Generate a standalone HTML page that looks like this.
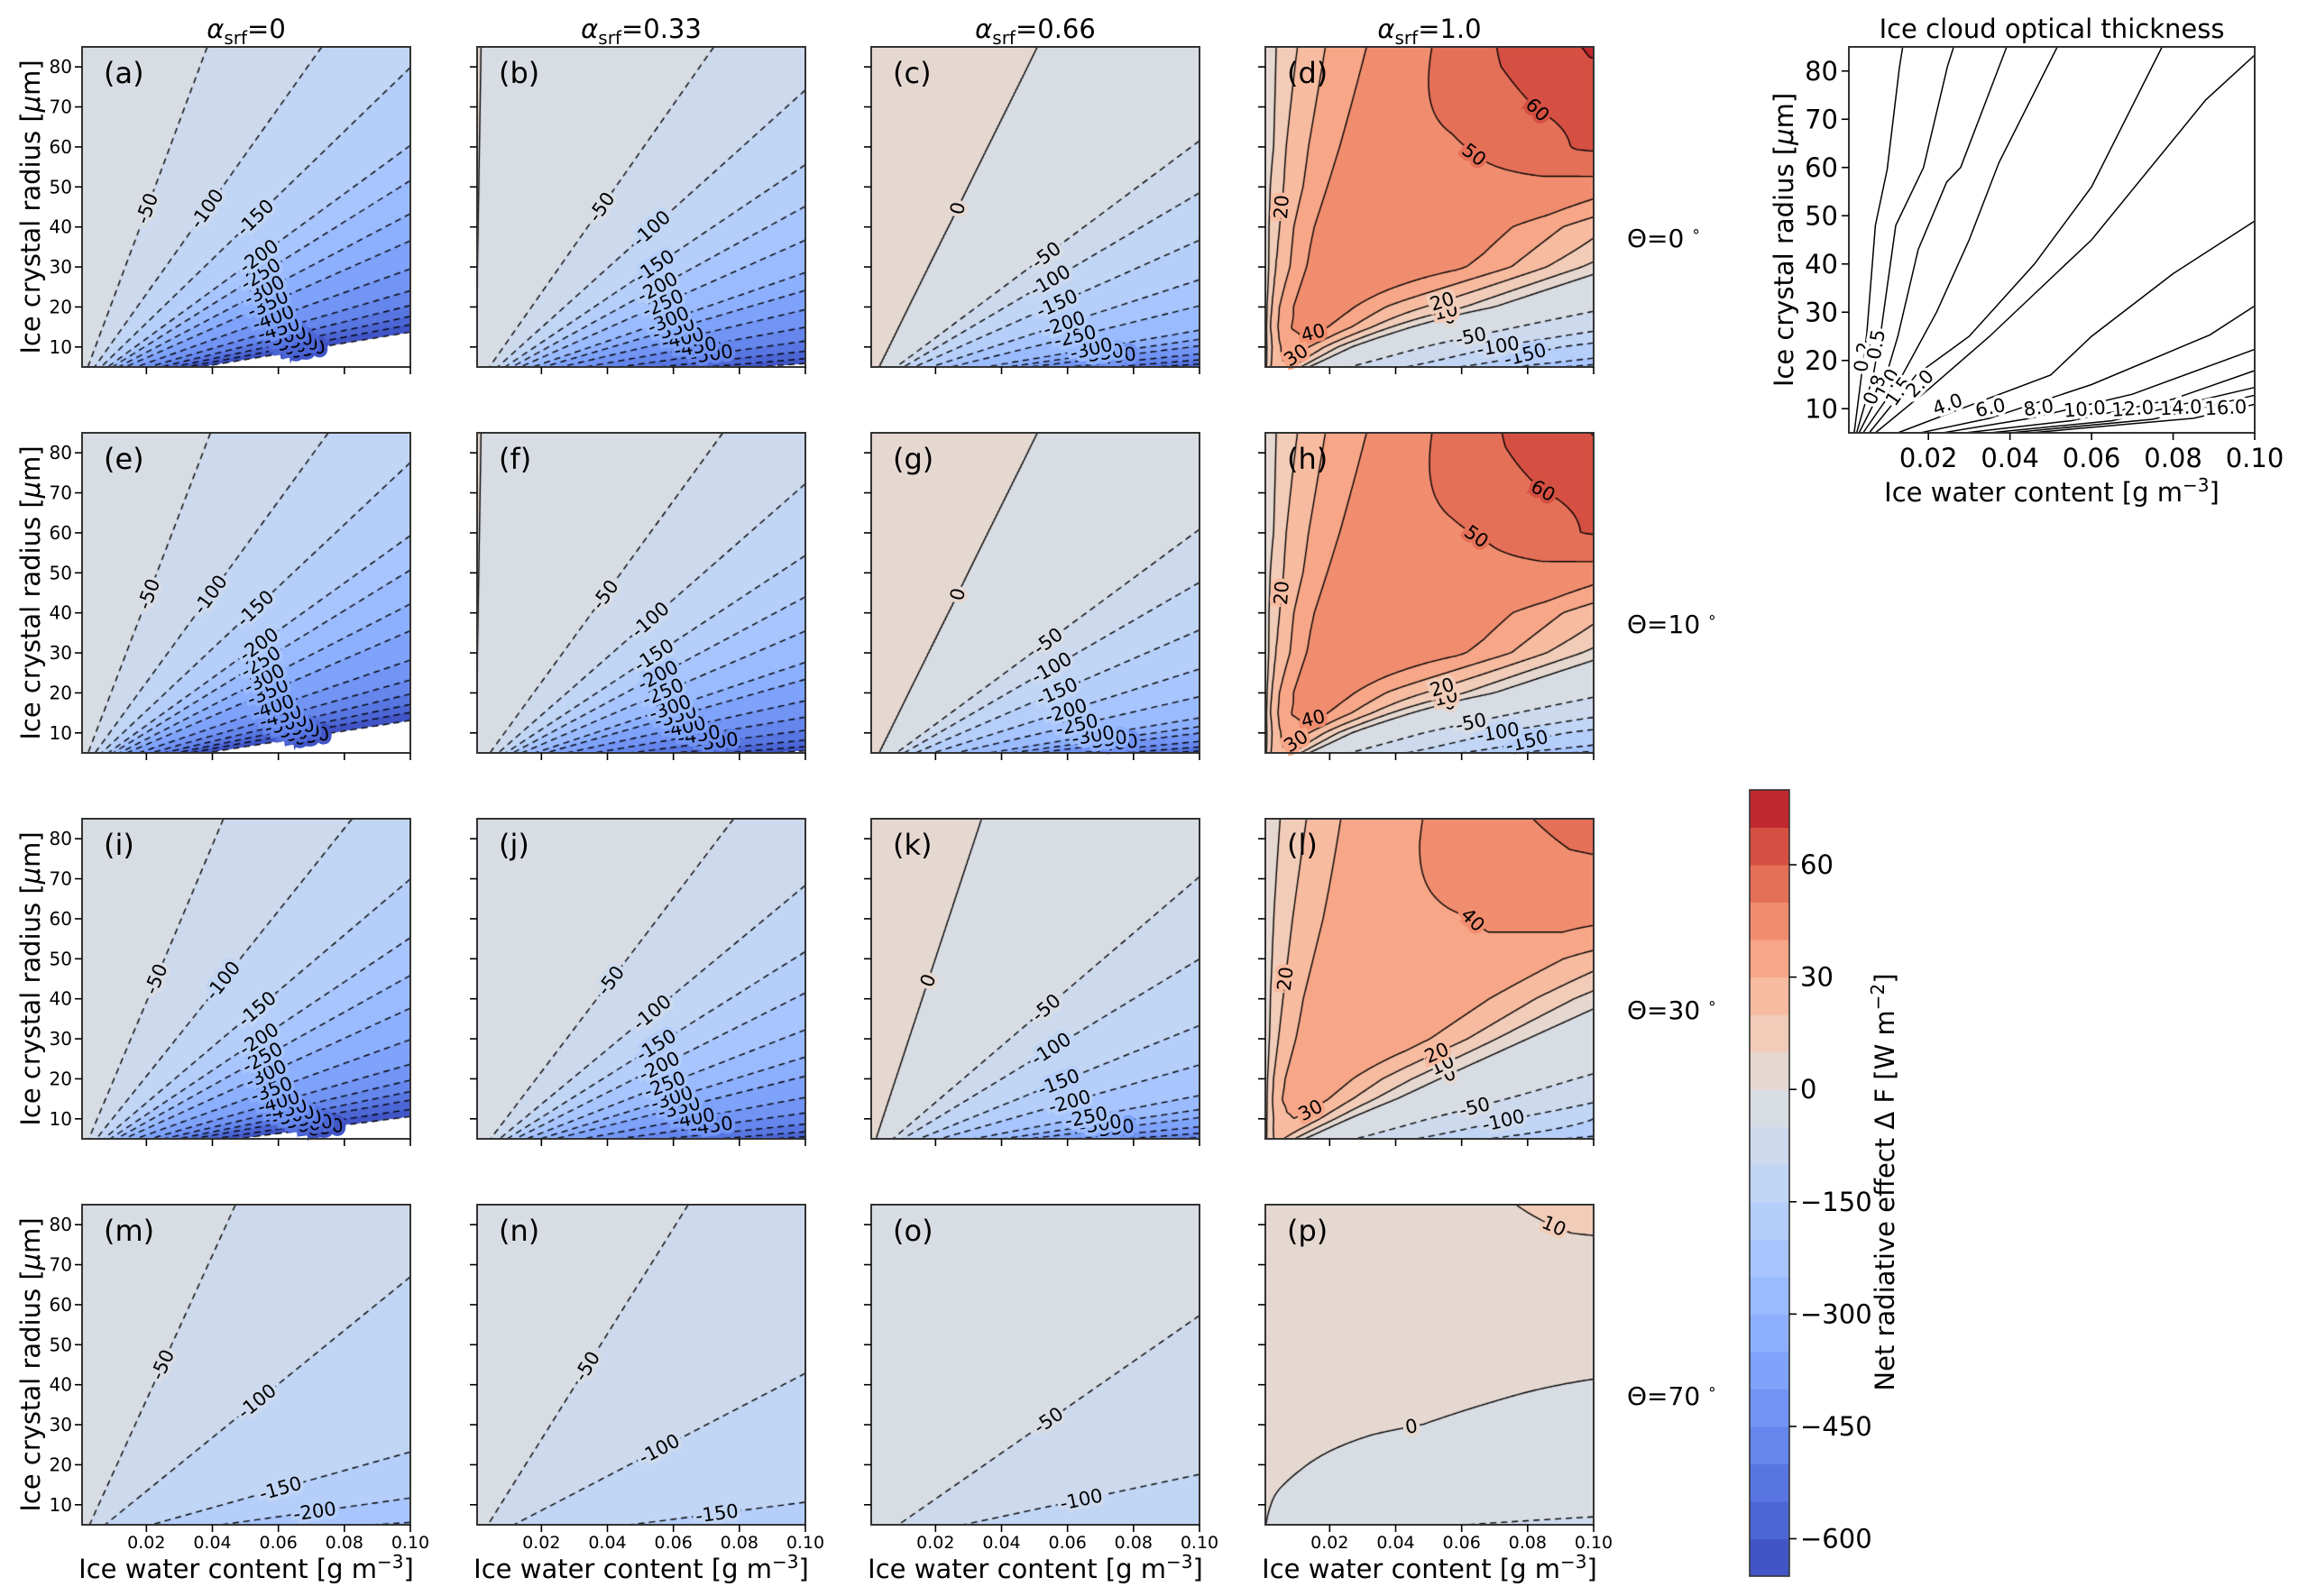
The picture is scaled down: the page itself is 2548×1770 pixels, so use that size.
<!DOCTYPE html>
<html><head><meta charset="utf-8">
<style>
body{margin:0;background:#fff;}
#wrap{position:relative;width:2548px;height:1770px;overflow:hidden;background:#fff;font-family:"DejaVu Sans","Liberation Sans",sans-serif;}
canvas{position:absolute;}
#chart{position:absolute;left:0;top:0;}
</style></head>
<body>
<div id="wrap">
<svg id="chart" width="2548" height="1770" viewBox="0 0 2548 1770" font-family="DejaVu Sans, Liberation Sans, sans-serif"></svg>
</div>
<script>
// ---------- data ----------
const Q = [0, 0.5, 1.2, 2.5, 4, 6, 9, 12, 16, 20, 25, 30, 35, 45, 70, 100, 200]; // 1e4*IWC/r nodes
const levels = [-650,-600,-550,-500,-450,-400,-350,-300,-250,-200,-150,-100,-50,0,10,20,30,40,50,60,70,80];
const cbTicks = [60,30,0,-150,-300,-450,-600];
const xTicks = [0.02,0.04,0.06,0.08,0.10];
const xTickLabels = ["0.02","0.04","0.06","0.08","0.10"];
const yTicks = [10,20,30,40,50,60,70,80];
const colTitles = ["0","0.33","0.66","1.0"];
const rowTitles = ["0","10","30","70"];
const ROW1 = [45];
const R9 = [5,10,15,20,30,40,50,60,85];
const R6 = [5,15,30,50,60,85];

const panelA = [0,-6,-13,-27,-44,-67,-105,-144,-190,-261,-324,-379,-406,-473,-638,-760,-950];
const panelE = [0,-6,-13,-26,-43,-65,-102,-140,-185,-255,-316,-370,-397,-463,-625,-745,-930];
const panelI = [0,-5,-11,-24,-39,-59,-92,-127,-167,-230,-285,-333,-357,-416,-561,-669,-836];
const panelM = [0,-5,-11,-23,-37,-54,-70,-89,-104,-113,-122,-130,-137,-153,-186,-213,-260];
const panelB = [2,-3,-7,-15,-24,-35,-53,-86,-124,-176,-232,-272,-300,-378,-460,-530,-700];
const panelF = [2,-3,-7,-14,-23,-34,-51,-83,-120,-170,-225,-264,-291,-367,-446,-514,-680];
const panelJ = [0,-3,-6,-13,-21,-31,-48,-77,-112,-158,-209,-245,-270,-340,-414,-477,-630];
const panelN = [0,-3,-8,-17,-27,-41,-58,-70,-80,-92,-104,-113,-120,-130,-142,-152,-180];
const panelC = [8,6,5,4,2,0,-15,-28,-47,-95,-136,-167,-188,-240,-298,-410,-600];
const panelG = [8,6,5,4,2,0,-14,-27,-45,-92,-132,-162,-182,-233,-290,-400,-585];
const panelK = [8,6,4,2,0,-5,-20,-38,-60,-100,-128,-150,-168,-210,-265,-360,-520];
const panelO = [-2,-4,-6,-10,-14,-19,-27,-35,-46,-57,-67,-75,-81,-91,-110,-122,-150];
const panelD = [
 [0,4,8,14,19,24,28,27,22,15,5,-5,-20,-40,-75,-120,-280],
 [0,6,12,20,27,32,35,33,26,16,4,-8,-22,-42,-100,-175,-300],
 [0,9,19,28,36,41,44,42,34,25,12,0,-15,-35,-95,-160,-300],
 [0,10,20,31,39,43,45,44,35,27,19,11,0,-30,-90,-150,-300],
 [1,10,20,29,39,45,47,47,45,41,30,16,2,-30,-90,-150,-300],
 [2,12,20,32,41,45,46,46,45,38,23,10,0,-30,-90,-150,-300],
 [2,12,20,31,41,43,44,45,46,45,35,20,5,-30,-90,-150,-300],
 [2,10,21,32,41,45,48,53,61,64,60,50,40,20,-20,-60,-150],
 [2,11,20,33,42,50,63,72,75,75,75,75,75,75,75,75,75]];
const panelH = [
 [0,4,8,14,19,24,28,27,22,15,5,-5,-20,-40,-75,-120,-270],
 [0,6,12,20,27,32,35,33,26,16,4,-8,-22,-42,-100,-170,-290],
 [0,9,19,28,36,41,44,42,34,25,12,0,-15,-35,-95,-155,-290],
 [0,10,20,31,39,43,45,44,35,27,19,11,0,-30,-90,-150,-290],
 [1,10,20,29,39,45,47,47,45,41,30,16,2,-30,-90,-150,-290],
 [2,12,20,32,41,45,46,46,45,38,23,10,0,-30,-90,-150,-290],
 [2,12,20,31,41,43,44,45,46,45,35,20,5,-30,-90,-150,-290],
 [2,10,21,32,41,45,48,52,60,63,60,50,40,20,-20,-60,-150],
 [2,11,20,33,42,50,62,71,74,74,74,74,74,74,74,74,74]];
const panelL = [
 [0,4,8,13,17,20,22,20,15,8,0,-8,-18,-35,-70,-110,-220],
 [0,6,12,18,24,28,30,28,22,14,2,-10,-22,-40,-90,-150,-260],
 [0,8,16,25,31,34,35,32,25,15,5,-8,-20,-40,-100,-150,-260],
 [0,9,18,27,33,35,36,33,25,15,5,-10,-22,-45,-100,-150,-260],
 [1,9,18,27,33,36,37,37,32,22,5,-10,-25,-50,-100,-150,-260],
 [2,10,18,28,34,36,37,37,33,22,5,-10,-25,-50,-100,-150,-260],
 [2,10,18,28,34,36,37,38,36,25,10,-5,-20,-50,-100,-150,-260],
 [2,10,18,28,34,37,39,41,42,40,30,20,10,-20,-60,-100,-200],
 [2,9,17,29,35,41,49,54,57,57,57,57,57,57,57,57,57]];
const panelP = [
 [3,2,0,-2,-4,-6,-9,-12,-15,-18,-21,-24,-27,-31,-40,-47,-60],
 [5,4,3,1,0,-1,-3,-5,-7,-9,-12,-14,-16,-20,-28,-35,-45],
 [5,5,5,4,4,3,2,1,0,-1,-3,-4,-5,-7,-10,-13,-18],
 [5,5,5,5,5,4,4,3,3,2,2,2,2,2,2,2,2],
 [5,5,5,5,5,5,5,5,5,5,5,5,5,5,5,5,5],
 [5,5,6,6,7,8,10,12,13,14,14,14,14,14,14,14,14]];

// optical thickness contour lines (IWC, r)
const tauLevels = ["0.2","0.5","0.8","1.0","1.5","2.0","4.0","6.0","8.0","10.0","12.0","14.0","16.0"];
const tauLines = [
 [[.0018,5],[.0049,25.6],[.007,48],[.0099,59.6],[.0129,80.8],[.0137,85]],
 [[.0024,5],[.0065,17],[.0083,25.6],[.012,48],[.0188,60],[.0247,81],[.0262,85]],
 [[.003,5],[.009,15],[.0125,25],[.0175,43],[.0245,57],[.0279,60],[.0392,85]],
 [[.004,5],[.013,16],[.022,30],[.03,45],[.0373,61],[.0516,85]],
 [[.0055,5],[.017,17],[.03,25],[.046,40],[.06,56],[.0773,85]],
 [[.007,5],[.02,14],[.035,25],[.06,45],[.088,74],[.1,83.3]],
 [[.0125,5],[.028,10],[.05,17],[.06,25],[.08,38],[.1,48.9]],
 [[.018,5],[.035,8],[.06,15],[.089,25.3],[.1,31.3]],
 [[.0235,5],[.045,8],[.07,13],[.1,22.3]],
 [[.029,5],[.055,7.5],[.08,12],[.1,17.9]],
 [[.035,5],[.065,7.5],[.1,14.4]],
 [[.04,5],[.075,7.8],[.1,12.8]],
 [[.045,5],[.085,8],[.1,10.9]]];
const tauLabelPos = [[.0039,20.7],[.0072,23.3],[.0068,13.9],[.0099,15.2],[.0127,13.6],[.0179,15.2],[.0247,10.9],[.0352,10.2],[.047,10.2],[.0583,9.9],[.0701,10],[.0819,10.2],[.0929,10.2]];
const tauLabelRot = [-82,-80,-68,-62,-55,-45,-20,-12,-8,-5,-4,-3,-3];

// ---------- layout ----------
const NS = 'http://www.w3.org/2000/svg';
const svg = document.getElementById('chart');
const wrap = document.getElementById('wrap');
const colX = [91,529,966,1403], rowY = [52,480,908,1336], PW = 364, PH = 355;
const X0 = 0.0005, X1 = 0.1, Y0 = 5, Y1 = 85;
const letters = "abcdefghijklmnop";
const panels = [
 {v:[panelA],rows:ROW1},{v:[panelB],rows:ROW1},{v:[panelC],rows:ROW1},{v:panelD,rows:R9},
 {v:[panelE],rows:ROW1},{v:[panelF],rows:ROW1},{v:[panelG],rows:ROW1},{v:panelH,rows:R9},
 {v:[panelI],rows:ROW1},{v:[panelJ],rows:ROW1},{v:[panelK],rows:ROW1},{v:panelL,rows:R9},
 {v:[panelM],rows:ROW1},{v:[panelN],rows:ROW1},{v:[panelO],rows:ROW1},{v:panelP,rows:R6}];

function el(tag, attrs, parent){
  const e = document.createElementNS(NS, tag);
  for (const k in attrs) e.setAttribute(k, attrs[k]);
  (parent || svg).appendChild(e);
  return e;
}
const CW = [[59,76,192],[68,90,204],[77,104,215],[87,117,225],[98,130,234],[108,142,241],[119,154,247],[130,165,251],[141,176,254],[152,185,255],[163,194,255],[174,201,253],[184,208,249],[194,213,244],[204,217,238],[213,219,230],[221,221,221],[229,216,209],[236,211,197],[241,204,185],[245,196,173],[247,187,160],[247,177,148],[247,166,135],[244,154,123],[241,141,111],[236,127,99],[229,112,88],[222,96,77],[213,80,66],[203,62,56],[192,40,47],[180,4,38]];
function coolwarm(t){
  t = Math.max(0, Math.min(1, t)) * 32;
  const i = Math.min(31, Math.floor(t)), f = t - i;
  return CW[i].map((c, k) => Math.round(c + f * (CW[i+1][k] - c)));
}
function norm(v){ return v < 0 ? 0.5 * (v + 650) / 650 : 0.5 + 0.5 * v / 80; }
const bandColors = [];
for (let i = 0; i < levels.length - 1; i++) bandColors.push(coolwarm(norm((levels[i] + levels[i+1]) / 2)));
function bandOf(v){
  if (v < levels[0] || v > levels[levels.length-1]) return -1;
  for (let i = 0; i < levels.length - 1; i++) if (v < levels[i+1]) return i;
  return levels.length - 2;
}
function interpQ(arr, q){
  if (q <= Q[0]) return arr[0];
  for (let k = 0; k < Q.length - 1; k++) if (q <= Q[k+1]) { const t = (q - Q[k]) / (Q[k+1] - Q[k]); return arr[k] + t * (arr[k+1] - arr[k]); }
  return arr[arr.length-1];
}
function field(p, iwc, r){
  const q = 1e4 * iwc / r, R = p.rows;
  if (R.length === 1) return interpQ(p.v[0], q);
  if (r <= R[0]) return interpQ(p.v[0], q);
  for (let k = 0; k < R.length - 1; k++) if (r <= R[k+1]) {
    const t = (r - R[k]) / (R[k+1] - R[k]);
    return (1 - t) * interpQ(p.v[k], q) + t * interpQ(p.v[k+1], q);
  }
  return interpQ(p.v[R.length-1], q);
}
const xPix = v => (v - X0) / (X1 - X0) * PW;
const yPix = v => (Y1 - v) / (Y1 - Y0) * PH;

function contour(grid, nx, ny, lev, sx, sy){
  const pts = {}, adj = {};
  const g = (i,j) => grid[j*nx+i];
  function addEdge(a,b){ (adj[a]=adj[a]||[]).push(b); (adj[b]=adj[b]||[]).push(a); }
  for (let j = 0; j < ny-1; j++) for (let i = 0; i < nx-1; i++) {
    const v0=g(i,j), v1=g(i+1,j), v2=g(i+1,j+1), v3=g(i,j+1);
    const c = [];
    const test = (a,b,key,xa,ya,xb,yb) => {
      if ((a < lev) !== (b < lev)) { const t = (lev - a) / (b - a); pts[key] = [(xa + t*(xb-xa))*sx, (ya + t*(yb-ya))*sy]; c.push(key); }
    };
    test(v0,v1,'h'+i+'_'+j,i,j,i+1,j);
    test(v1,v2,'v'+(i+1)+'_'+j,i+1,j,i+1,j+1);
    test(v3,v2,'h'+i+'_'+(j+1),i,j+1,i+1,j+1);
    test(v0,v3,'v'+i+'_'+j,i,j,i,j+1);
    if (c.length === 2) addEdge(c[0], c[1]);
    else if (c.length === 4) { addEdge(c[0], c[3]); addEdge(c[1], c[2]); }
  }
  const seen = {}, lines = [];
  const walk = start => {
    const line = [pts[start]]; seen[start] = 1; let cur = start;
    while (true) { const nb = (adj[cur]||[]).find(k => !seen[k]); if (!nb) break; seen[nb] = 1; line.push(pts[nb]); cur = nb; }
    return line;
  };
  for (const k in adj) if (!seen[k] && adj[k].length === 1) lines.push(walk(k));
  for (const k in adj) if (!seen[k]) { const l = walk(k); l.push(l[0]); lines.push(l); }
  return lines;
}

// ---------- draw panels ----------
panels.forEach((p, idx) => {
  const c = idx % 4, r = Math.floor(idx / 4), L = colX[c], T = rowY[r];
  const cv = document.createElement('canvas');
  cv.width = PW; cv.height = PH;
  cv.style.left = L + 'px'; cv.style.top = T + 'px';
  
  
  wrap.insertBefore(cv, svg);
  const ctx = cv.getContext('2d');
  const img = ctx.createImageData(PW, PH);
  for (let py = 0; py < PH; py++) {
    const rr = Y1 - (py + 0.5) / PH * (Y1 - Y0);
    for (let px = 0; px < PW; px++) {
      const iwc = X0 + (px + 0.5) / PW * (X1 - X0);
      const b = bandOf(field(p, iwc, rr));
      const o = (py * PW + px) * 4;
      if (b < 0) { img.data[o]=255; img.data[o+1]=255; img.data[o+2]=255; }
      else { const col = bandColors[b]; img.data[o]=col[0]; img.data[o+1]=col[1]; img.data[o+2]=col[2]; }
      img.data[o+3] = 255;
    }
  }
  ctx.putImageData(img, 0, 0);
  const nx = 183, ny = 179, sx = PW / (nx-1), sy = PH / (ny-1);
  const grid = new Float64Array(nx*ny);
  for (let j = 0; j < ny; j++) for (let i = 0; i < nx; i++) {
    grid[j*nx+i] = field(p, X0 + i/(nx-1)*(X1-X0), Y1 - j/(ny-1)*(Y1-Y0));
  }
  ctx.strokeStyle = '#000'; ctx.lineWidth = 1.4;
  levels.forEach(lev => {
    const lines = contour(grid, nx, ny, lev, sx, sy);
    ctx.setLineDash(lev < 0 ? [7,5] : []);
    lines.forEach(line => {
      ctx.beginPath();
      line.forEach((pt, k) => k ? ctx.lineTo(pt[0], pt[1]) : ctx.moveTo(pt[0], pt[1]));
      ctx.stroke();
      let len = 0; const cum = [0];
      for (let k = 1; k < line.length; k++) { len += Math.hypot(line[k][0]-line[k-1][0], line[k][1]-line[k-1][1]); cum.push(len); }
      if (len < 90) return;
      let k = cum.findIndex(v => v >= len * 0.5); if (k < 1) k = 1;
      const a = line[k-1], b2 = line[Math.min(line.length-1, k+1)];
      let ang = Math.atan2(b2[1]-a[1], b2[0]-a[0]) * 180 / Math.PI;
      if (ang > 90) ang -= 180; if (ang < -90) ang += 180;
      const lx = line[k][0], ly = line[k][1];
      if (lx < 14 || lx > PW-14 || ly < 12 || ly > PH-10) return;
      const bc = bandColors[Math.max(0, bandOf(field(p, X0 + lx/PW*(X1-X0), Y1 - ly/PH*(Y1-Y0))))];
      const t = el('text', {x: L+lx, y: T+ly+7, 'font-size': 21, 'text-anchor': 'middle', fill: '#000', stroke: 'rgb('+bc.join(',')+')', 'stroke-width': 8, 'paint-order': 'stroke', transform: 'rotate('+ang.toFixed(1)+' '+(L+lx)+' '+(T+ly)+')'});
      
      
      t.textContent = String(lev);
    });
  });
  ctx.setLineDash([]);
  const fr = el('rect', {x: L, y: T, width: PW, height: PH, fill: 'none', stroke: '#333', 'stroke-width': 2});
  
  
  xTicks.forEach((v, k) => {
    const tk = el('line', {x1: L+xPix(v), x2: L+xPix(v), y1: T+PH, y2: T+PH+8, stroke: '#000', 'stroke-width': 1.6});
    
    
    if (r === 3) {
      const tl = el('text', {x: L+xPix(v), y: T+PH+26, 'font-size': 19, 'text-anchor': 'middle'});
      
      
      tl.textContent = xTickLabels[k];
    }
  });
  yTicks.forEach(v => {
    const tk = el('line', {x1: L-8, x2: L, y1: T+yPix(v), y2: T+yPix(v), stroke: '#000', 'stroke-width': 1.6});
    
    
    if (c === 0) {
      const tl = el('text', {x: L-11, y: T+yPix(v)+7, 'font-size': 20, 'text-anchor': 'end'});
      
      
      tl.textContent = String(v);
    }
  });
  const pl = el('text', {x: L+24, y: T+40, 'font-size': 32});
  
  
  pl.textContent = '(' + letters[idx] + ')';
  if (c === 0) {
    const yl = el('text', {x: 44, y: T+PH/2, 'font-size': 29, 'text-anchor': 'middle', transform: 'rotate(-90 44 '+(T+PH/2)+')'});
    
    
    yl.innerHTML = 'Ice crystal radius [<tspan font-style="italic">μ</tspan>m]';
  }
  if (r === 3) {
    const xl = el('text', {x: L+PW/2, y: 1750, 'font-size': 29, 'text-anchor': 'middle'});
    
    
    xl.innerHTML = 'Ice water content [g m<tspan dy="-11" font-size="20">−3</tspan><tspan dy="11">]</tspan>';
  }
  if (r === 0) {
    const ct = el('text', {x: L+PW/2, y: 42, 'font-size': 29, 'text-anchor': 'middle'});
    
    
    ct.innerHTML = '<tspan font-style="italic">α</tspan><tspan dy="7" font-size="20">srf</tspan><tspan dy="-7">=' + colTitles[c] + '</tspan>';
  }
  if (c === 3) {
    const rt = el('text', {x: 1804, y: T+222, 'font-size': 28});
    
    
    rt.innerHTML = 'Θ=' + rowTitles[r] + '<tspan dx="8" dy="-12" font-size="17">∘</tspan>';
  }
});

// ---------- optical thickness panel ----------
const RL = 2050, RT = 52, RW = 450, RH = 428;
const rx = v => RL + (v - X0) / (X1 - X0) * RW;
const ry = v => RT + (Y1 - v) / (Y1 - Y0) * RH;
tauLines.forEach((line, k) => {
  const pl = el('polyline', {points: line.map(p => rx(p[0]).toFixed(1)+','+ry(p[1]).toFixed(1)).join(' '), fill: 'none', stroke: '#000', 'stroke-width': 1.5});
  
  
});
tauLevels.forEach((lab, k) => {
  const x = rx(tauLabelPos[k][0]), y = ry(tauLabelPos[k][1]);
  const t = el('text', {x: x, y: y+7, 'font-size': 21, 'text-anchor': 'middle', stroke: '#fff', 'stroke-width': 7, 'paint-order': 'stroke', transform: 'rotate('+tauLabelRot[k]+' '+x+' '+y+')'});
  
  
  t.textContent = lab;
});
const rf = el('rect', {x: RL, y: RT, width: RW, height: RH, fill: 'none', stroke: '#333', 'stroke-width': 2});


xTicks.forEach((v, k) => {
  const tk = el('line', {x1: rx(v), x2: rx(v), y1: RT+RH, y2: RT+RH+8, stroke: '#000', 'stroke-width': 1.6});
  
  
  const tl = el('text', {x: rx(v), y: RT+RH+38, 'font-size': 29, 'text-anchor': 'middle'});
  
  
  tl.textContent = xTickLabels[k];
});
yTicks.forEach(v => {
  const tk = el('line', {x1: RL-8, x2: RL, y1: ry(v), y2: ry(v), stroke: '#000', 'stroke-width': 1.6});
  
  
  const tl = el('text', {x: RL-12, y: ry(v)+10, 'font-size': 29, 'text-anchor': 'end'});
  
  
  tl.textContent = String(v);
});
const rtl = el('text', {x: RL+RW/2, y: 42, 'font-size': 29, 'text-anchor': 'middle'});


rtl.textContent = 'Ice cloud optical thickness';
const rxl = el('text', {x: RL+RW/2, y: 556, 'font-size': 29, 'text-anchor': 'middle'});


rxl.innerHTML = 'Ice water content [g m<tspan dy="-11" font-size="20">−3</tspan><tspan dy="11">]</tspan>';
const ryl = el('text', {x: 1988, y: RT+RH/2, 'font-size': 29, 'text-anchor': 'middle', transform: 'rotate(-90 1988 '+(RT+RH/2)+')'});


ryl.innerHTML = 'Ice crystal radius [<tspan font-style="italic">μ</tspan>m]';

// ---------- colorbar ----------
const CBL = 1940, CBT = 876, CBW = 44, CBH = 872;
const nb = levels.length - 1, bh = CBH / nb;
const cbY = v => { const i = levels.indexOf(v); return CBT + CBH - i * bh; };
bandColors.forEach((col, i) => {
  const b = el('rect', {x: CBL, y: CBT + CBH - (i+1)*bh, width: CBW, height: bh + 0.5, fill: 'rgb('+col.join(',')+')'});
  
  
});
const cbf = el('rect', {x: CBL, y: CBT, width: CBW, height: CBH, fill: 'none', stroke: '#333', 'stroke-width': 1.6});


cbTicks.forEach(v => {
  const y = cbY(v);
  const tk = el('line', {x1: CBL+CBW, x2: CBL+CBW+8, y1: y, y2: y, stroke: '#000', 'stroke-width': 1.6});
  
  
  const tl = el('text', {x: CBL+CBW+12, y: y+10, 'font-size': 29});
  
  
  tl.textContent = v < 0 ? '−' + Math.abs(v) : String(v);
});
const cbl = el('text', {x: 2100, y: 1311, 'font-size': 29, 'text-anchor': 'middle', transform: 'rotate(-90 2100 1311)'});


cbl.innerHTML = 'Net radiative effect Δ F [W m<tspan dy="-11" font-size="20">−2</tspan><tspan dy="11">]</tspan>';
</script>
</body></html>
